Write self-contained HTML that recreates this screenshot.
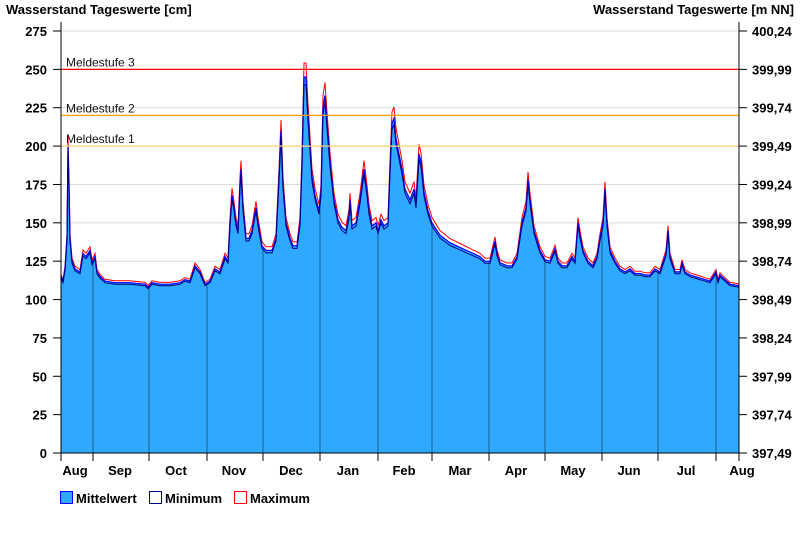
<!DOCTYPE html>
<html><head><meta charset="utf-8"><style>body{margin:0;background:#fff}svg{display:block;font-family:"Liberation Sans",Arial,sans-serif}</style></head>
<body>
<svg id="s" width="800" height="550" xmlns="http://www.w3.org/2000/svg">
<defs><clipPath id="cp"><polygon id="cpp" points=""/></clipPath></defs>
<text x="6" y="14" font-size="13" font-weight="bold">Wasserstand Tageswerte [cm]</text>
<text x="794" y="14" font-size="13" font-weight="bold" text-anchor="end">Wasserstand Tageswerte [m NN]</text>
<g id="grid"></g>
<g id="data"></g>
<g id="ax"></g>
<g font-size="13" font-weight="bold">
<rect x="60.5" y="491.5" width="12" height="12" fill="#2ea9ff" stroke="#0000ff"/><text x="76" y="503">Mittelwert</text>
<rect x="149.5" y="491.5" width="12" height="12" fill="#fff" stroke="#000080"/><text x="165" y="503">Minimum</text>
<rect x="234.5" y="491.5" width="12" height="12" fill="#fff" stroke="#ff0000"/><text x="250" y="503">Maximum</text>
</g>
</svg>
<script>
const NS="http://www.w3.org/2000/svg";
const Y=v=>453-v*1.5345;
function el(p,t,a,txt){const e=document.createElementNS(NS,t);for(const k in a)e.setAttribute(k,a[k]);if(txt!=null)e.textContent=txt;document.getElementById(p).appendChild(e);return e;}
const rl=["397,49","397,74","397,99","398,24","398,49","398,74","398,99","399,24","399,49","399,74","399,99","400,24"];
for(let i=0;i<=11;i++){const v=i*25,y=Y(v);
 if(i>0)el("grid","line",{x1:61,x2:739,y1:y,y2:y,stroke:"#dcdcdc"});
 el("ax","line",{x1:53,x2:61,y1:y,y2:y,stroke:"#000"});
 el("ax","line",{x1:739,x2:747,y1:y,y2:y,stroke:"#000"});
 el("ax","text",{x:47,y:y+5,"font-size":13,"font-weight":"bold","text-anchor":"end"},String(v));
 el("ax","text",{x:752,y:y+5,"font-size":13,"font-weight":"bold"},rl[i]);}
const m=[[61,115],[63,112],[65,120],[67,140],[68,200],[69,175],[70,140],[72,125],[75,120],[80,118],[83,130],[86,128],[90,132],[92,124],[95,128],[97,118],[100,115],[105,112],[115,111],[130,111],[145,110],[148,108],[152,111],[160,110],[170,110],[180,111],[185,113],[190,112],[195,122],[200,118],[205,110],[210,112],[215,120],[220,118],[225,128],[228,125],[230,150],[232,168],[234,160],[236,150],[238,145],[240,175],[241,185],[243,160],[246,140],[249,140],[252,145],[256,160],[258,150],[262,135],[266,132],[272,132],[276,140],[279,180],[281,210],[283,175],[286,150],[290,140],[293,135],[297,135],[300,150],[302,190],[304,245],[306,245],[308,220],[310,200],[312,180],[315,168],[319,158],[321,170],[323,225],[325,233],[327,215],[330,190],[334,165],[338,152],[342,147],[346,145],[349,155],[350,165],[352,148],[356,150],[360,165],[364,185],[367,170],[369,158],[372,148],[376,150],[378,145],[381,152],[384,148],[388,150],[390,185],[392,215],[394,218],[396,205],[399,195],[402,185],[405,172],[410,165],[414,172],[416,162],[419,195],[421,190],[424,170],[428,158],[432,150],[440,142],[450,137],[460,134],[470,131],[480,128],[485,125],[490,125],[495,138],[497,130],[500,124],[507,122],[512,122],[517,128],[522,150],[526,160],[528,178],[530,165],[534,145],[540,132],[545,126],[550,125],[555,133],[558,125],[562,122],[567,122],[572,128],[575,125],[578,150],[580,142],[583,132],[588,125],[593,122],[597,128],[600,140],[603,150],[605,172],[607,150],[610,132],[615,125],[620,120],[625,118],[630,120],[635,117],[640,117],[645,116],[650,116],[655,120],[660,118],[666,130],[668,145],[670,128],[675,118],[680,118],[682,124],[685,118],[690,116],[695,115],[700,114],[705,113],[710,112],[716,118],[718,112],[720,116],[725,113],[730,110],[739,109]];
const pts=f=>m.map(([x,v])=>x+","+Y(f(v)).toFixed(1)).join(" ");
const mx=v=>v+Math.max(0,v-112)*0.06+1.2, mn=v=>v-1-Math.max(0,v-112)*0.03;
const poly="61,453 "+pts(v=>v)+" 739,453";
document.getElementById("cpp").setAttribute("points",poly);
el("data","polygon",{points:poly,fill:"#2ea9ff"});
const ticks=[61,93,149,207,263,320,378,432,489,545,602,658,716,739];
const g=el("data","g",{"clip-path":"url(#cp)"});
ticks.forEach(x=>{if(x>61&&x<739){const l=document.createElementNS(NS,"line");[["x1",x],["x2",x],["y1",453],["y2",20],["stroke","#1a5f90"]].forEach(([k,v])=>l.setAttribute(k,v));g.appendChild(l);}});
el("data","polyline",{points:pts(mx),fill:"none",stroke:"#ff0000","stroke-width":1});
el("data","polyline",{points:pts(v=>v),fill:"none",stroke:"#0000ff","stroke-width":1.2});
el("data","polyline",{points:pts(mn),fill:"none",stroke:"#000080","stroke-width":1});
[[250,"#ff0000","Meldestufe 3"],[220,"#ffa000","Meldestufe 2"],[200,"#ffd070","Meldestufe 1"]].forEach(([v,c,t])=>{const y=Y(v);
 el("data","line",{x1:61,x2:739,y1:y,y2:y,stroke:c,"stroke-width":1.2});
 el("data","text",{x:66,y:y-3,"font-size":12,fill:"#111"},t);});
el("ax","line",{x1:61,x2:61,y1:22,y2:453,stroke:"#000"});
el("ax","line",{x1:739,x2:739,y1:22,y2:453,stroke:"#000"});
el("ax","line",{x1:53,x2:747,y1:453,y2:453,stroke:"#000"});
ticks.forEach(x=>el("ax","line",{x1:x,x2:x,y1:453,y2:461,stroke:"#000"}));
const ml=[[75,"Aug"],[120,"Sep"],[176,"Oct"],[234,"Nov"],[291,"Dec"],[348,"Jan"],[404,"Feb"],[460,"Mar"],[516,"Apr"],[573,"May"],[629,"Jun"],[686,"Jul"],[742,"Aug"]];
ml.forEach(([x,t])=>el("ax","text",{x:x,y:475,"font-size":13,"font-weight":"bold","text-anchor":"middle"},t));
</script>
</body></html>
